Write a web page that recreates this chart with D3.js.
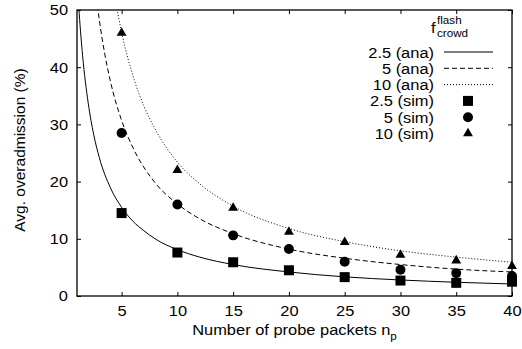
<!DOCTYPE html>
<html>
<head>
<meta charset="utf-8">
<script src="https://d3js.org/d3.v7.min.js"></script>
<style>
  body { margin: 0; background: #fff; }
  text { font-family: "Liberation Sans", Arial, sans-serif; fill: #000; }
</style>
</head>
<body>
<div id="my_dataviz"></div>
<script>

// simulation points
var simN  = [5, 10, 15, 20, 25, 30, 35, 40];
var sim25 = [14.5, 7.6, 5.9, 4.5, 3.3, 2.7, 2.3, 2.5];
var sim5  = [28.5, 16.0, 10.6, 8.2, 6.0, 4.6, 4.0, 3.5];
var sim10 = [46.0, 22.0, 15.4, 11.2, 9.4, 7.2, 6.2, 5.2];

// analytical curves
var anaN25 = [1, 1.2, 1.5, 2, 2.5, 3, 4, 5, 6, 7, 8, 10, 12, 15, 20, 25, 30, 35, 40];
var ana25  = [56, 49.4, 42.1, 33.8, 28.2, 24.2, 18.9, 15.5, 13.1, 11.4, 10.0, 8.1, 6.8, 5.5, 4.2, 3.35, 2.8, 2.4, 2.1];
var anaN5  = [2.5, 3, 3.5, 4, 5, 6, 8, 10, 12, 15, 20, 25, 30, 35, 40];
var ana5   = [56.4, 48.3, 42.2, 37.5, 30.7, 26.0, 19.8, 16.1, 13.5, 10.9, 8.2, 6.6, 5.5, 4.7, 4.2];
var anaN10 = [4.4, 5, 6, 7, 8, 10, 12, 15, 20, 25, 30, 35, 40];
var ana10  = [52.2, 46.1, 38.6, 33.2, 29.2, 23.4, 19.6, 15.7, 11.8, 9.5, 7.9, 6.8, 5.9];

var xTicks = [5, 10, 15, 20, 25, 30, 35, 40];
var yTicks = [0, 10, 20, 30, 40, 50];
var legendLabels = ["2.5 (ana)", "5 (ana)", "10 (ana)", "2.5 (sim)", "5 (sim)", "10 (sim)"];

var margin = {top: 10, right: 10, bottom: 53, left: 77},
    width = 512 - margin.left,
    height = 296 - margin.top;

// the original text is a little wider than it is tall
var sx = 1.06;

var svg = d3.select("#my_dataviz")
  .append("svg")
    .attr("width", 522)
    .attr("height", 349)
  .append("g")
    .attr("transform", "translate(" + margin.left + "," + margin.top + ")");

var x = d3.scaleLinear().domain([1, 40]).range([0, width]);
var y = d3.scaleLinear().domain([0, 50]).range([height, 0]);

svg.append("clipPath").attr("id", "clip")
  .append("rect").attr("width", width).attr("height", height);

// wide text helper: x,y drawn through a scaled group
function wideText(parent, tx, ty, anchor, size, str) {
  return parent.append("g")
    .attr("transform", "translate(" + tx + "," + ty + ") scale(" + sx + ",1)")
    .append("text")
      .attr("text-anchor", anchor)
      .style("font-size", size)
      .text(str);
}

// axes with inward ticks, mirrored
var fs = "15.5px";
svg.append("g")
  .attr("transform", "translate(0," + height + ")")
  .call(d3.axisBottom(x).tickValues(xTicks).tickSizeInner(-4).tickSizeOuter(0).tickPadding(9))
  .call(function(g) {
    g.select(".domain").remove();
    g.selectAll("text").style("font-size", fs).attr("font-family", null)
      .attr("transform", "scale(" + sx + ",1)");
  });
svg.append("g")
  .call(d3.axisTop(x).tickValues(xTicks).tickSize(-4).tickFormat(""))
  .call(function(g) { g.select(".domain").remove(); });
svg.append("g")
  .call(d3.axisLeft(y).tickValues(yTicks).tickSizeInner(-4).tickSizeOuter(0).tickPadding(9))
  .call(function(g) {
    g.select(".domain").remove();
    g.selectAll("text").style("font-size", fs).attr("font-family", null)
      .attr("x", -9 / sx).attr("transform", "scale(" + sx + ",1)");
  });
svg.append("g")
  .attr("transform", "translate(" + width + ",0)")
  .call(d3.axisRight(y).tickValues(yTicks).tickSize(-4).tickFormat(""))
  .call(function(g) { g.select(".domain").remove(); });

svg.selectAll(".tick line").attr("stroke", "#000");

svg.append("rect")
  .attr("width", width).attr("height", height)
  .attr("fill", "none").attr("stroke", "#000").attr("stroke-width", 1.3);

// axis titles
wideText(svg, width / 2, 335 - margin.top, "middle", fs, "Number of probe packets n")
  .append("tspan").attr("dy", 5).style("font-size", "11px").text("p");

svg.append("text")
  .attr("transform", "translate(" + (25 - margin.left) + "," + (150 - margin.top) + ") rotate(-90)")
  .attr("text-anchor", "middle").style("font-size", fs)
  .text("Avg. overadmission (%)");

// analytical lines
var dashes = ["none", "5,3", "1,2"];
var anaSeries = [[anaN25, ana25], [anaN5, ana5], [anaN10, ana10]];
var line = d3.line()
  .x(function(d) { return x(d[0]); })
  .y(function(d) { return y(d[1]); })
  .curve(d3.curveMonotoneX);

anaSeries.forEach(function(s, i) {
  svg.append("path")
    .datum(d3.zip(s[0], s[1]))
    .attr("clip-path", "url(#clip)")
    .attr("fill", "none")
    .attr("stroke", "#000")
    .attr("stroke-width", 1)
    .attr("stroke-dasharray", dashes[i])
    .attr("d", line);
});

// simulation markers
var symbols = [
  d3.symbol().type(d3.symbolSquare).size(100),
  d3.symbol().type(d3.symbolCircle).size(78),
  d3.symbol().type(d3.symbolTriangle).size(42)
];
[sim25, sim5, sim10].forEach(function(vals, i) {
  svg.append("g")
    .selectAll("path")
    .data(d3.zip(simN, vals))
    .enter()
    .append("path")
      .attr("transform", function(d) { return "translate(" + x(d[0]) + "," + y(d[1]) + ")"; })
      .attr("d", symbols[i])
      .attr("fill", "#000");
});

// legend
var lg = svg.append("g").attr("transform", "translate(" + (-margin.left) + "," + (-margin.top) + ")");
wideText(lg, 431, 33, "start", fs, "f");
wideText(lg, 437, 24, "start", "11px", "flash");
wideText(lg, 437, 37, "start", "11px", "crowd");

legendLabels.forEach(function(lab, i) {
  var cy = 52 + i * 16.3;
  wideText(lg, 434, cy + 5.5, "end", fs, lab);
  if (i < 3) {
    lg.append("line")
      .attr("x1", 444).attr("x2", 493).attr("y1", cy).attr("y2", cy)
      .attr("stroke", "#000").attr("stroke-width", 1)
      .attr("stroke-dasharray", dashes[i]);
  } else {
    lg.append("path")
      .attr("transform", "translate(468," + cy + ")")
      .attr("d", symbols[i - 3])
      .attr("fill", "#000");
  }
});

</script>
</body>
</html>
